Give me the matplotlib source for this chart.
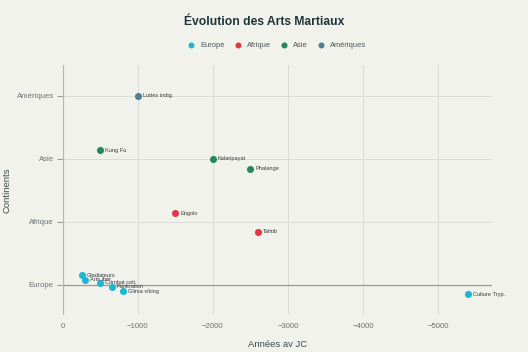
import matplotlib.pyplot as plt

plt.rcParams["font.family"] = ["Liberation Sans", "DejaVu Sans"]

continents = ["Europe", "Afrique", "Asie", "Amériques"]
colors = {"Europe": "#1fb6d2", "Afrique": "#dc3a45", "Asie": "#25875a", "Amériques": "#4f7f8e"}

# (nom, continent, années av JC, position verticale)
arts = [
    ("Gladiateurs", "Europe", -250, 0.15),
    ("Arts ibér.", "Europe", -300, 0.08),
    ("Combat celt.", "Europe", -500, 0.03),
    ("Pankration", "Europe", -650, -0.03),
    ("Glima viking", "Europe", -800, -0.10),
    ("Culture Tryp.", "Europe", -5400, -0.15),
    ("Engolo", "Afrique", -1500, 1.14),
    ("Tahtib", "Afrique", -2600, 0.84),
    ("Kung Fu", "Asie", -500, 2.14),
    ("Kalaripayat", "Asie", -2000, 2.00),
    ("Phalange", "Asie", -2500, 1.84),
    ("Luttes indig.", "Amériques", -1000, 3.00),
]

bg = "#f2f2ec"
fig = plt.figure(figsize=(5.28, 3.52), dpi=100, facecolor=bg)
ax = fig.add_axes([0.119, 0.105, 0.813, 0.71], facecolor=bg)

for cont in continents:
    pts = [a for a in arts if a[1] == cont]
    ax.scatter([p[2] for p in pts], [p[3] for p in pts], s=26, color=colors[cont],
               label=cont, zorder=3, linewidths=0)
    for name, _, x, y in pts:
        ax.annotate(name, (x, y), xytext=(3.5, 0), textcoords="offset points",
                    fontsize=4.1, color="#343b3f", va="center")

ax.set_xlim(0, -5720)
ax.set_ylim(-0.48, 3.49)
ax.set_xticks([0, -1000, -2000, -3000, -4000, -5000])
ax.set_yticks(range(4))
ax.set_yticklabels(continents)

ax.grid(True, color="#dcdcd6", linewidth=0.7)
ax.set_axisbelow(True)
ax.axhline(0, color="#9a9a96", linewidth=0.9, zorder=1)
ax.axvline(0, color="#b5b5b0", linewidth=1.6, zorder=1)
for s in ax.spines.values():
    s.set_visible(False)
ax.tick_params(axis="y", length=4.5, color="#9a9a96", labelsize=5.6, labelcolor="#6b7276", pad=2)
ax.tick_params(axis="x", length=0, labelsize=5.6, labelcolor="#6b7276", pad=6)

ax.set_xlabel("Années av JC", fontsize=6.8, color="#3a4a50", labelpad=7)
ax.set_ylabel("Continents", fontsize=6.8, color="#3a4a50")
ax.yaxis.set_label_coords(-0.119, 0.5)

fig.suptitle("Évolution des Arts Martiaux", x=0.5, y=0.955, fontsize=8.7,
             color="#1d3438", fontweight="bold")
fig.legend(loc="center", bbox_to_anchor=(0.521, 0.872), ncol=4, frameon=False,
           fontsize=5.4, labelcolor="#4a5458", handletextpad=0.2, columnspacing=0.75,
           markerscale=0.85)

fig.savefig("out.png", dpi=100, facecolor=bg)
